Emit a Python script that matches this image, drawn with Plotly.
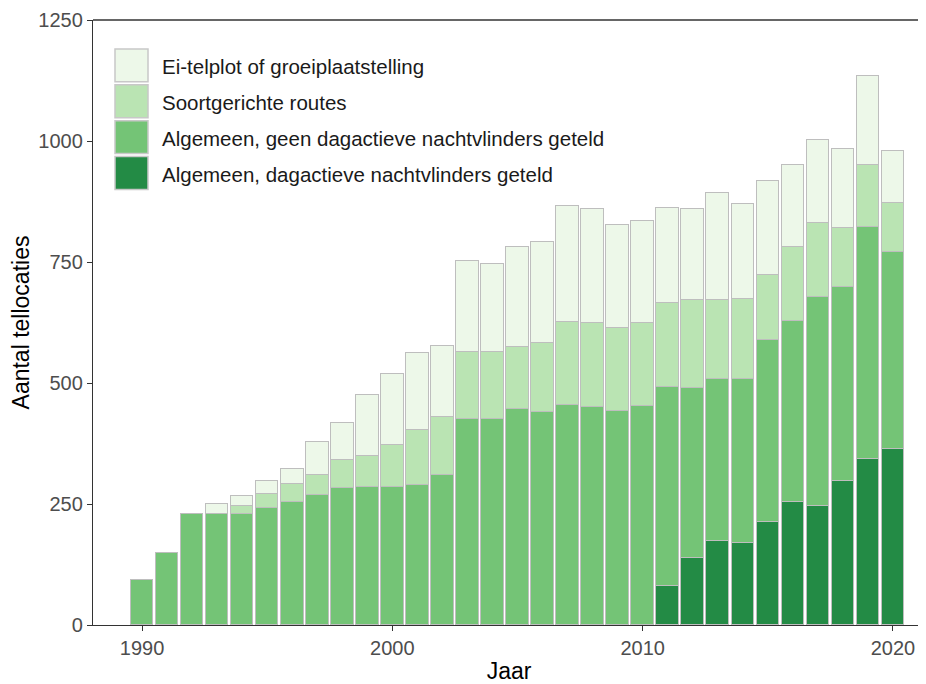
import plotly.graph_objects as go

years = list(range(1990, 2021))

# Segment values per year (stacked from bottom to top)
dag_geteld = [None]*21 + [80, 138, 173, 170, 213, 255, 246, 298, 343, 363]
geen_dag = [93, 148, 229, 229, 229, 242, 255, 268, 283, 286, 286, 290, 309, 426, 426,
            446, 440, 455, 450, 442, 452, 412, 351, 336, 339, 376, 373, 432, 400, 480, 408]
soortgericht = [None, None, None, None, 17, 29, 36, 42, 57, 63, 86, 112, 121, 138, 138,
                129, 143, 171, 173, 171, 173, 173, 182, 162, 165, 134, 153, 153, 123, 127, 101]
ei_telplot = [None, None, None, 20, 20, 27, 32, 69, 78, 127, 146, 161, 146, 188, 181,
              206, 208, 240, 236, 213, 210, 197, 188, 221, 195, 194, 169, 171, 162, 185, 107]

series_names = ["Ei-telplot of groeiplaatstelling", "Soortgerichte routes",
                "Algemeen, geen dagactieve nachtvlinders geteld",
                "Algemeen, dagactieve nachtvlinders geteld"]
colors = ["#EDF8E9", "#BAE4B3", "#74C476", "#238B45"]
y_ticks = [0, 250, 500, 750, 1000, 1250]
x_ticks = [1990, 2000, 2010, 2020]

OFF = 8  # page body margin
W, H = 918, 676
L, R, T, B = 85, 1, 10, 59
pw, ph = W - L - R, H - T - B

def px(x):  # screen pixel -> paper
    return (x - OFF - L) / pw

def py(y):
    return (H - B - (y - OFF)) / ph

fig = go.Figure()
stack = [(dag_geteld, series_names[3], colors[3]),
         (geen_dag, series_names[2], colors[2]),
         (soortgericht, series_names[1], colors[1]),
         (ei_telplot, series_names[0], colors[0])]
for vals, name, col in stack:
    fig.add_trace(go.Bar(x=years, y=vals, name=name, width=0.9,
                         marker=dict(color=col, line=dict(color="#BEBEBE", width=1.5)),
                         showlegend=False))

axis_common = dict(showline=True, linecolor="#333333", linewidth=1.3, ticks="outside",
                   ticklen=5, tickcolor="#333333", tickwidth=1.2,
                   tickfont=dict(family="Liberation Sans, Arial", size=20, color="#4D4D4D"),
                   ticklabeloverflow="allow",
                   showgrid=False, zeroline=False)

fig.update_layout(
    width=W, height=H, autosize=False,
    margin=dict(l=L, r=R, t=T, b=B, pad=0),
    barmode="stack", bargap=0,
    plot_bgcolor="white", paper_bgcolor="white",
    font=dict(family="Liberation Sans, Arial", color="black"),
    xaxis=dict(range=[1988.04, 2021.28], tickvals=x_ticks, ticktext=[str(v) for v in x_ticks],
               title=dict(text="Jaar", font=dict(size=23, color="black"), standoff=4),
               **axis_common),
    yaxis=dict(range=[0, 1250.01], tickvals=y_ticks, ticktext=[str(v) for v in y_ticks],
               title=dict(text="Aantal tellocaties", font=dict(size=23, color="black"), standoff=8),
               **axis_common),
)

# top border line
fig.add_shape(type="line", xref="paper", yref="paper", x0=0, x1=1, y0=1, y1=1,
              line=dict(color="#333333", width=1.3))

# custom legend with large swatches
for i, (name, col) in enumerate(zip(series_names, colors)):
    top = 47 + 36 * i
    fig.add_shape(type="rect", xref="paper", yref="paper",
                  x0=px(115), x1=px(148), y0=py(top + 33), y1=py(top),
                  fillcolor=col, line=dict(color="#C8C8C8", width=1.5))
    fig.add_annotation(xref="paper", yref="paper", x=px(160), y=py(top + 18),
                       text=name, showarrow=False, xanchor="left", yanchor="middle",
                       font=dict(size=20.5, color="#1A1A1A"))

fig.write_html("out.html")
